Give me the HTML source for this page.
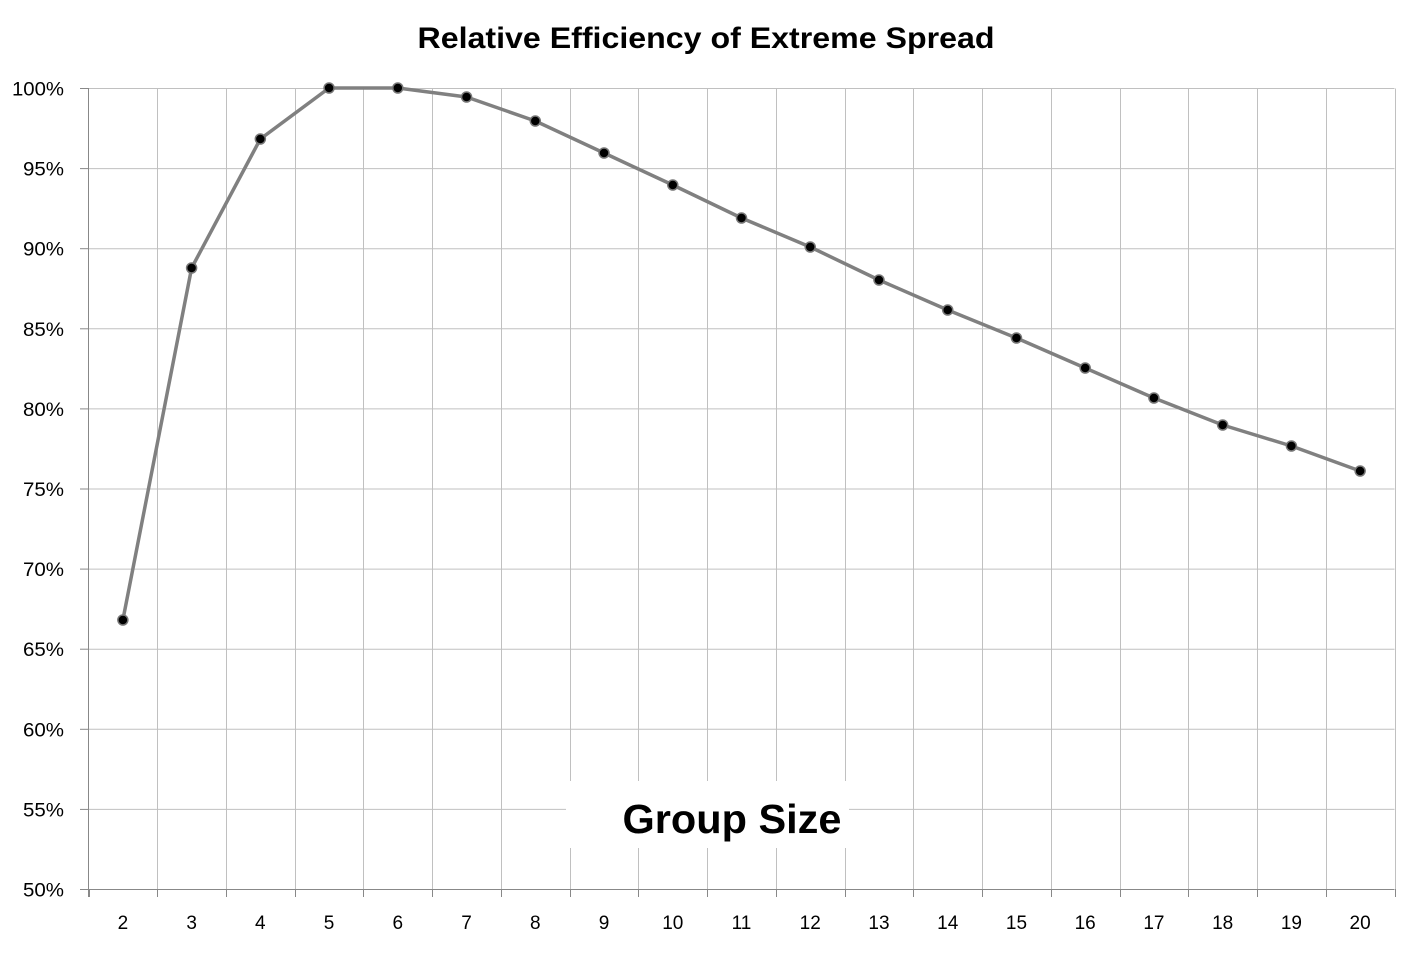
<!DOCTYPE html>
<html><head><meta charset="utf-8"><style>
html,body{margin:0;padding:0;background:#fff;}
svg{display:block;}
text{font-family:"Liberation Sans",sans-serif;fill:#000;}
</style></head><body>
<svg width="1413" height="954" viewBox="0 0 1413 954" xmlns="http://www.w3.org/2000/svg">
<text x="706" y="48" font-size="30" font-weight="bold" text-anchor="middle" textLength="577" lengthAdjust="spacingAndGlyphs">Relative Efficiency of Extreme Spread</text>
<g id="grid" stroke="#c0c0c0" stroke-width="1"></g>
<g id="axes" stroke="#888" stroke-width="1"></g>
<rect x="566" y="781" width="283" height="67" fill="#fff"/>
<text x="732" y="833" font-size="41" font-weight="bold" text-anchor="middle" textLength="219" lengthAdjust="spacingAndGlyphs">Group Size</text>
<g id="labels" font-size="19"></g>
<polyline id="line" fill="none" stroke="#808080" stroke-width="3.5" stroke-linejoin="round"/>
<g id="pts"></g>
</svg>
<script>
var ns="http://www.w3.org/2000/svg";
function el(p,t,a,txt){var e=document.createElementNS(ns,t);for(var k in a)e.setAttribute(k,a[k]);if(txt!==undefined)e.textContent=txt;document.getElementById(p).appendChild(e);}
var x0=88.5,x1=1394.5,w=(x1-x0)/19;
for(var i=0;i<=10;i++){var y=88.5+i*80.1;
 if(i<10) el("grid","line",{x1:x0,x2:x1,y1:y,y2:y});
 el("axes","line",{x1:80,x2:x0,y1:y,y2:y});
 var s=(100-5*i)+"%";
 el("labels","text",{x:64,y:y+7,"text-anchor":"end",textLength:(s.length==4?52:41),lengthAdjust:"spacingAndGlyphs"},s);}
for(var j=1;j<=19;j++){var x=Math.round(x0+j*w)+0.5; el("grid","line",{x1:x,x2:x,y1:88.5,y2:889});}
el("axes","line",{x1:x0,x2:x0,y1:88,y2:897});
el("axes","line",{x1:x0,x2:x1,y1:889.5,y2:889.5});
for(var j=0;j<=19;j++){var x=Math.round(x0+j*w)+0.5; el("axes","line",{x1:x,x2:x,y1:889,y2:897});}
for(var j=0;j<19;j++){el("labels","text",{x:x0+(j+0.5)*w,y:929,"text-anchor":"middle"},String(j+2));}
var ys=[620,268,139,88,88,97,121,153,185,218,247,280,310,338,368,398,425,446,471];
var pts=[];
for(var j=0;j<19;j++){var x=x0+(j+0.5)*w;pts.push(x+","+ys[j]);}
document.getElementById("line").setAttribute("points",pts.join(" "));
for(var j=0;j<19;j++){var x=x0+(j+0.5)*w;el("pts","circle",{cx:x,cy:ys[j],r:5,fill:"#000",stroke:"#777","stroke-width":1.5});}
</script>
</body></html>
